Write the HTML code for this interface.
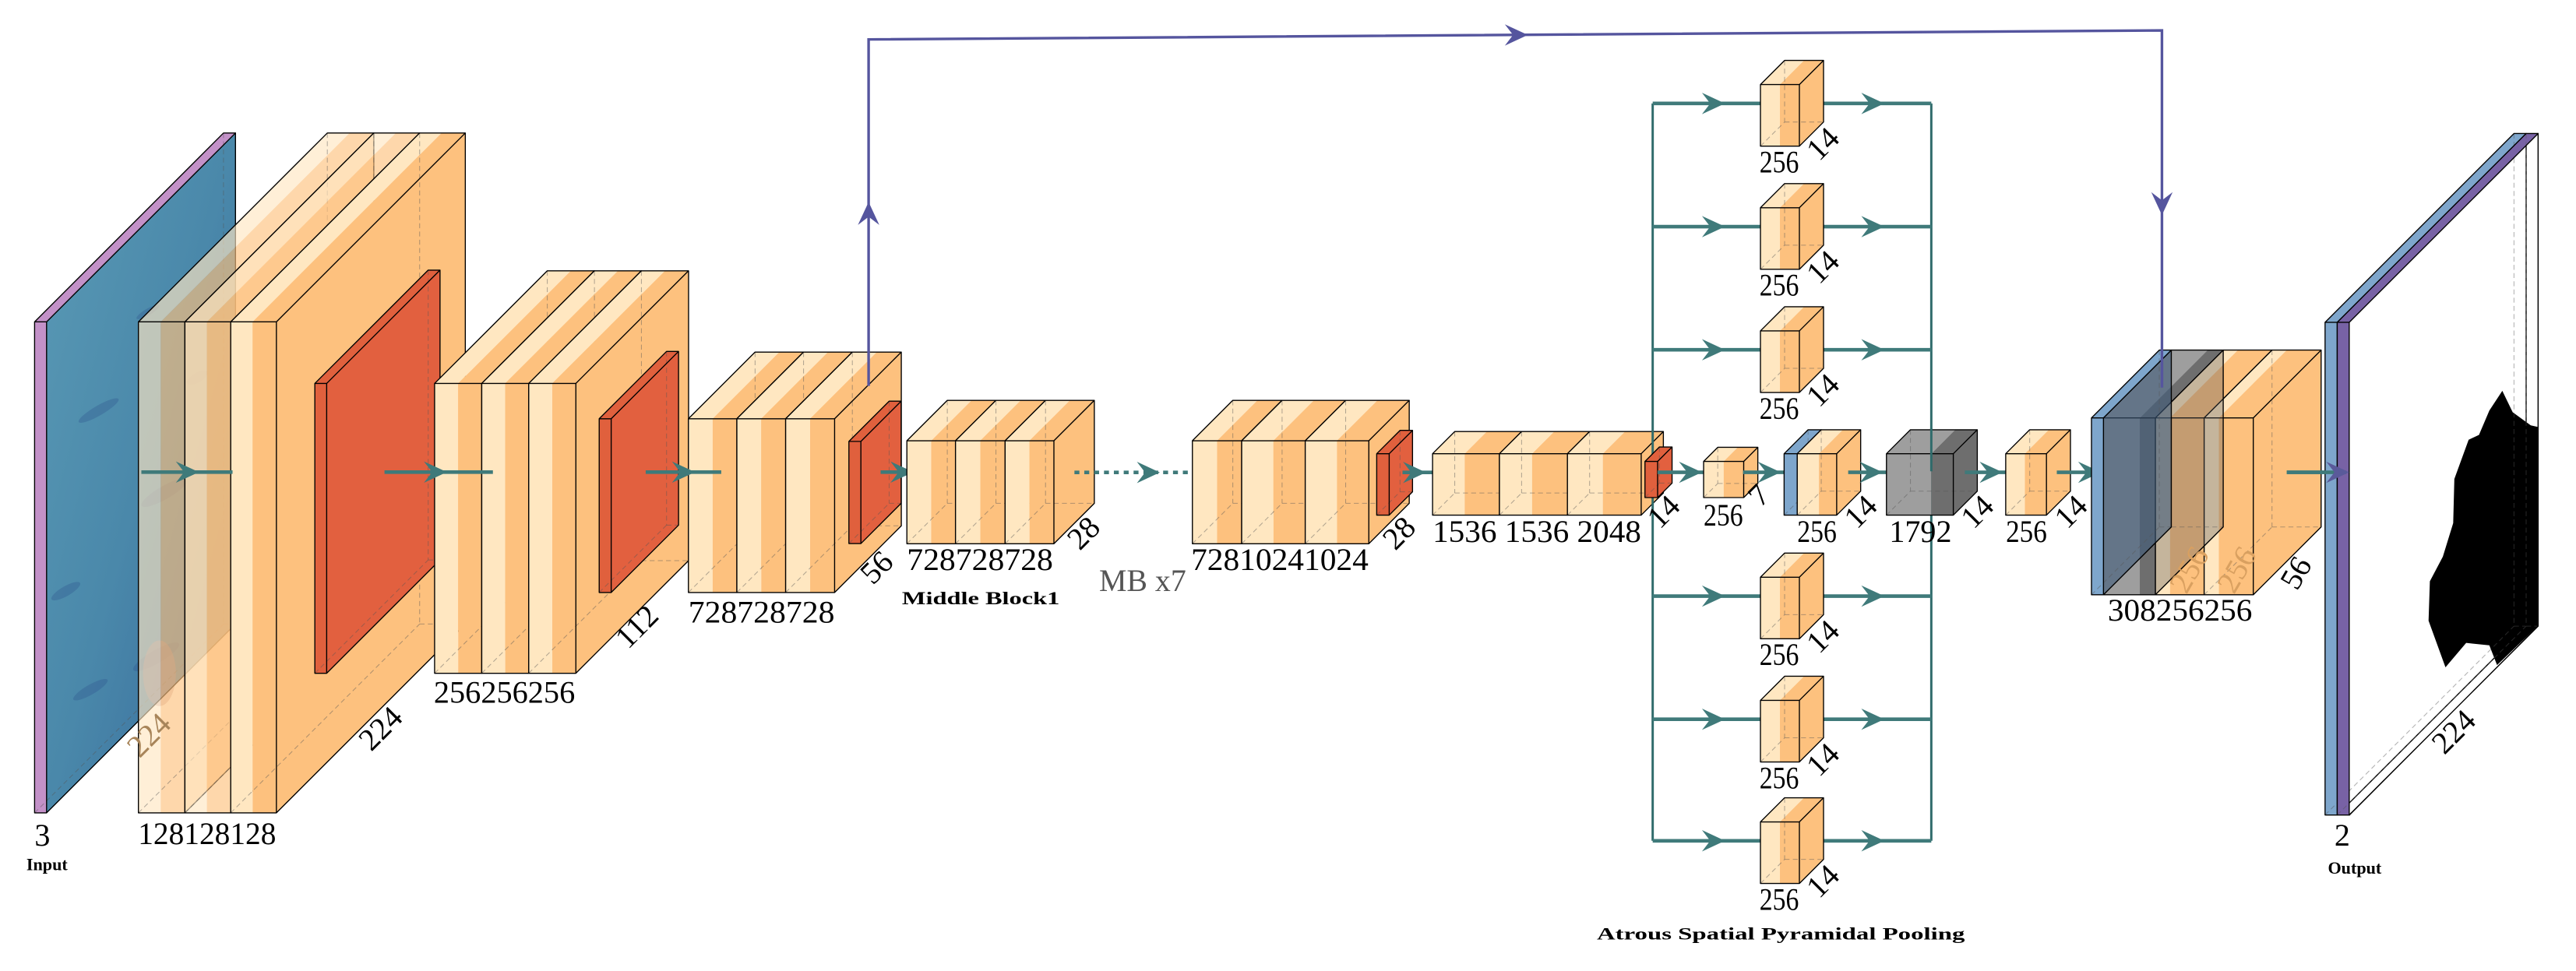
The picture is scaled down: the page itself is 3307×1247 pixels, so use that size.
<!DOCTYPE html>
<html><head><meta charset="utf-8">
<style>
html,body{margin:0;padding:0;background:#fff;}
svg{display:block;}
.n{font-family:"Liberation Serif",serif;font-size:19px;fill:#000;}
.b{font-family:"Liberation Serif",serif;font-weight:bold;fill:#000;}
</style></head><body>
<svg id="s" xmlns="http://www.w3.org/2000/svg" width="3307" height="1247" viewBox="0 0 1568 591.3">
<defs>
<linearGradient id="img" x1="0" y1="0" x2="1" y2="1">
<stop offset="0" stop-color="#5a9ab5"/><stop offset="0.5" stop-color="#4a88aa"/><stop offset="1" stop-color="#35679a"/>
</linearGradient>
</defs>
<g id="shapes"></g>
<g id="labels">
<text class="n" x="21" y="515">3</text>
<text class="b" x="16" y="530" font-size="10.5">Input</text>
<text class="n" x="84" y="514" textLength="84" lengthAdjust="spacingAndGlyphs">128128128</text>
<text class="n" transform="translate(95,452) rotate(-45)" text-anchor="middle" style="fill:#a8855a">224</text>
<text class="n" transform="translate(236,448) rotate(-45)" text-anchor="middle">224</text>
<text class="n" x="264" y="428" textLength="86" lengthAdjust="spacingAndGlyphs">256256256</text>
<text class="n" transform="translate(392,386) rotate(-45)" text-anchor="middle">112</text>
<text class="n" x="419" y="379" textLength="89" lengthAdjust="spacingAndGlyphs">728728728</text>
<text class="n" transform="translate(538,350) rotate(-45)" text-anchor="middle">56</text>
<text class="n" x="552" y="347" textLength="89" lengthAdjust="spacingAndGlyphs">728728728</text>
<text class="b" x="549" y="368" font-size="11" textLength="96" lengthAdjust="spacingAndGlyphs">Middle Block1</text>
<text class="n" transform="translate(664,329) rotate(-45)" text-anchor="middle">28</text>
<text class="n" x="669" y="360" style="fill:#555" textLength="53" lengthAdjust="spacingAndGlyphs">MB x7</text>
<text class="n" x="725" y="347" textLength="108" lengthAdjust="spacingAndGlyphs">72810241024</text>
<text class="n" transform="translate(856,329) rotate(-45)" text-anchor="middle">28</text>
<text class="n" x="872" y="330" textLength="127" lengthAdjust="spacingAndGlyphs">1536 1536 2048</text>
<text class="n" transform="translate(1017,316) rotate(-45)" text-anchor="middle">14</text>
<text class="n" x="1037" y="320" textLength="24" lengthAdjust="spacingAndGlyphs">256</text>
<text class="n" transform="translate(1075,306) rotate(-45)" text-anchor="middle">7</text>
<text class="n" x="1094" y="330" textLength="24" lengthAdjust="spacingAndGlyphs">256</text>
<text class="n" transform="translate(1137,316) rotate(-45)" text-anchor="middle">14</text>
<text class="n" x="1150" y="330" textLength="38" lengthAdjust="spacingAndGlyphs">1792</text>
<text class="n" transform="translate(1208,316) rotate(-45)" text-anchor="middle">14</text>
<text class="n" x="1221" y="330" textLength="25" lengthAdjust="spacingAndGlyphs">256</text>
<text class="n" transform="translate(1265,316) rotate(-45)" text-anchor="middle">14</text>
<text class="n" x="1283" y="378" textLength="88" lengthAdjust="spacingAndGlyphs">308256256</text>
<text class="n" transform="translate(1338,350) rotate(-60)" text-anchor="middle" style="fill:#d9a060">256</text>
<text class="n" transform="translate(1367,350) rotate(-60)" text-anchor="middle" style="fill:#d9a060">256</text>
<text class="n" transform="translate(1403,352) rotate(-60)" text-anchor="middle">56</text>
<text class="n" x="1421" y="515">2</text>
<text class="b" x="1417" y="532" font-size="10.5">Output</text>
<text class="n" transform="translate(1498,450) rotate(-45)" text-anchor="middle">224</text>
<text class="b" x="972" y="572" font-size="10.5" textLength="224" lengthAdjust="spacingAndGlyphs">Atrous Spatial Pyramidal Pooling</text>
<text class="n" x="1071" y="105" textLength="24" lengthAdjust="spacingAndGlyphs">256</text>
<text class="n" transform="translate(1114,92) rotate(-45)" text-anchor="middle">14</text>
<text class="n" x="1071" y="180" textLength="24" lengthAdjust="spacingAndGlyphs">256</text>
<text class="n" transform="translate(1114,167) rotate(-45)" text-anchor="middle">14</text>
<text class="n" x="1071" y="255" textLength="24" lengthAdjust="spacingAndGlyphs">256</text>
<text class="n" transform="translate(1114,242) rotate(-45)" text-anchor="middle">14</text>
<text class="n" x="1071" y="405" textLength="24" lengthAdjust="spacingAndGlyphs">256</text>
<text class="n" transform="translate(1114,392) rotate(-45)" text-anchor="middle">14</text>
<text class="n" x="1071" y="480" textLength="24" lengthAdjust="spacingAndGlyphs">256</text>
<text class="n" transform="translate(1114,467) rotate(-45)" text-anchor="middle">14</text>
<text class="n" x="1071" y="554" textLength="24" lengthAdjust="spacingAndGlyphs">256</text>
<text class="n" transform="translate(1114,541) rotate(-45)" text-anchor="middle">14</text>
</g>
</svg>
<script>
(function(){
var G=document.getElementById('shapes');var NS='http://www.w3.org/2000/svg';
function el(t,a){var e=document.createElementNS(NS,t);for(var k in a)e.setAttribute(k,a[k]);G.appendChild(e);return e;}
function P(pts){return pts.map(function(p){return p[0].toFixed(2)+','+p[1].toFixed(2)}).join(' ');}
function poly(pts,fill,o){var a={points:P(pts),fill:fill,stroke:'none'};if(o)for(var k in o)a[k]=o[k];return el('polygon',a);}
function line(x1,y1,x2,y2,st,w,extra){var a={x1:x1,y1:y1,x2:x2,y2:y2,stroke:st,'stroke-width':w};if(extra)for(var k in extra)a[k]=extra[k];return el('line',a);}
var L='#FFE7C1',O='#FDC17E',R='#E0603D';
function box(x,y,w,h,d,segs,side,opt){opt=opt||{};var op=opt.op||1;var dy=opt.dy||d;
 poly([[x+w,y],[x+w+d,y-dy],[x+w+d,y+h-dy],[x+w,y+h]],side,{'fill-opacity':opt.sop||op});
 var f0=0;segs.forEach(function(s){var f1=s[0];
  poly([[x+f0*w,y],[x+f0*w+d,y-dy],[x+f1*w+d,y-dy],[x+f1*w,y]],s[2]||s[1],{'fill-opacity':op});
  poly([[x+f0*w,y],[x+f1*w,y],[x+f1*w,y+h],[x+f0*w,y+h]],s[1],{'fill-opacity':op});f0=f1;});
 var ds={'stroke-dasharray':'3,2',opacity:0.45};
 line(x+d,y-dy,x+d,y+h-dy,'#555',0.5,ds);line(x+d,y+h-dy,x+w+d,y+h-dy,'#555',0.5,ds);line(x,y+h,x+d,y+h-dy,'#555',0.5,ds);
 var sk={fill:'none',stroke:'#000','stroke-width':0.65,'stroke-linejoin':'round'};
 el('polygon',Object.assign({points:P([[x,y],[x+w,y],[x+w,y+h],[x,y+h]])},sk));
 el('polyline',Object.assign({points:P([[x,y],[x+d,y-dy],[x+w+d,y-dy],[x+w+d,y+h-dy],[x+w,y+h]])},sk));
 line(x+w,y,x+w+d,y-dy,'#000',0.65);
}
function conv(xs,ws,y,h,d,f,op){for(var i=0;i<xs.length;i++)box(xs[i],y,ws[i],h,d,[[f,L],[1,O]],O,{op:op?op[i]:1});}
function red(x,y,w,h,d){box(x,y,w,h,d,[[1,R]],'#E2603F');}
function head(tx,ty,dir,c,s){s=s||1;var l=14*s,hw=6.5*s,b=9*s;var pts;
 if(dir=='r')pts=[[tx,ty],[tx-l,ty-hw],[tx-b,ty],[tx-l,ty+hw]];
 if(dir=='u')pts=[[tx,ty],[tx-hw,ty+l],[tx,ty+b],[tx+hw,ty+l]];
 if(dir=='d')pts=[[tx,ty],[tx-hw,ty-l],[tx,ty-b],[tx+hw,ty-l]];
 poly(pts,c);}
var T='#3f7a7a';
function arr(x1,x2,tip,y,dash){line(x1,y,x2,y,T,2.2,dash?{'stroke-dasharray':'3,3'}:{});head(tip,y,'r',T);}

poly([[28.3,196],[143.3,81],[143.3,380],[28.3,495]],'url(#img)');
[[60,250,14,3],[90,190,8,2],[100,300,16,4],[55,420,12,3],[120,230,7,3],[40,360,10,3],[95,400,16,4]].forEach(function(b){el('ellipse',{cx:b[0],cy:b[1],rx:b[2],ry:b[3],fill:'#2a4f8a',opacity:0.3,transform:'rotate(-30 '+b[0]+' '+b[1]+')'});});
el('ellipse',{cx:97,cy:410,rx:10,ry:20,fill:'#b07a80',opacity:0.4});
el('polygon',{points:P([[28.3,196],[143.3,81],[143.3,380],[28.3,495]]),fill:'none',stroke:'#333','stroke-width':0.4});
box(21,196,7.3,299,115,[[1,'#C391C8']],'none');
conv([84.2,112.5,140.4],[28.3,27.9,27.8],196,299,115,0.48,[0.65,0.65,1]);
red(191.6,233.5,7.2,176.5,69);
arr(86,141.5,121,287.5);
conv([264.5,293.2,321.8],[28.7,28.6,28.7],233.5,176.5,68.6,0.5);
red(364.7,255,7.3,105.8,41);
arr(234,300,272,287.5);
conv([419,448.5,478.2],[29.5,29.7,29.8],255,105.8,40.6,0.5);
red(516.7,268.8,7.3,62.2,24.5);
arr(393,439,423,287.5);
arr(536,564,556,287.5);
conv([552,581.6,611.8],[29.6,30.2,29.7],268.4,62.7,24.6,0.5);
arr(654,736,706,287.7,true);
conv([725.8,755.8,794.5],[30,38.7,38.7],268.4,62.7,24.6,0.5);
red(838,276.3,7.6,37.4,14.2);
arr(853.7,878,868,287.7);
conv([872,912.7,954.1],[40.7,41.4,44.9],276.3,37.4,13.5,0.48);
line(1006,63,1006,512,'#2f6b6b',1.4);line(1175.6,63,1175.6,512,'#2f6b6b',1.4);
[63,138,213,363,438,512].forEach(function(r){
 line(1006,r,1078,r,T,2.2);head(1050,r,'r',T);
 line(1103,r,1175.6,r,T,2.2);head(1147,r,'r',T);
 box(1071.6,r-11.5,23.7,37.5,14.7,[[0.5,L],[1,O]],O);
});
red(1001.3,281,7.7,22,8.8);
arr(1009,1037,1036,287.6);
box(1037,281,24.4,22,8.6,[[0.5,L],[1,O]],O);
arr(1061,1086,1084,287.6);
box(1086,276.3,8,37.4,14.6,[[1,'#7EA6CC']],'#7EA6CC',{sop:0.45});
box(1094,276.3,24,37.4,14.6,[[0.55,L],[1,O]],O);
arr(1125,1154.5,1146,287.6);
box(1148.3,276.3,40.7,37.4,14.6,[[0.67,'#9E9E9E'],[1,'#6E6E6E']],'#6E6E6E');
line(1175.6,261,1175.6,287,'#2f6b6b',1.4);
arr(1196,1228,1219,287.6);
box(1220.9,276.3,24.8,37.4,14.6,[[0.47,L],[1,O]],O);
arr(1252,1293,1279,287.6);
box(1312,254.5,29.7,107.7,41.3,[[0.3,L],[1,O]],O);
box(1341.7,254.5,29.9,107.7,41.3,[[0.3,L],[1,O]],O);
box(1280.4,254.5,31.6,107.7,41.3,[[0.7,'#9E9E9E'],[1,'#6E6E6E']],'#5a5a5a',{sop:0.35});
box(1273.1,254.5,7.3,107.7,41.3,[[1,'#7EA6CC']],'#3d5a7a',{sop:0.6});
arr(1392,1430,1430,287.6);
poly([[1430,196.3],[1545,81],[1545,381],[1430,496.7]],'#fff');
poly([[1523.2,238],[1529.5,251],[1540.5,259],[1545,260],[1545,381],[1520,405],[1515.3,393],[1501.2,391.5],[1488.6,406.4],[1478.3,378],[1479.1,354],[1487,339],[1493.3,318.5],[1494,291.7],[1502.7,267.8],[1509,264.8],[1515.3,250]],'#000');
line(1545,81,1545,381,'#333',0.6);line(1430,496.7,1545,381,'#333',0.4);
box(1415.3,196.3,7.4,300,115,[[1,'#7EA6CC']],'none');
box(1422.7,196.3,7.3,300,115,[[1,'#7862A5']],'none');
line(1392,287.6,1428,287.6,T,2.2);head(1430,287.6,'r','#5a5a9a');
var B='#55559e';
el('polyline',{points:'528.7,235 528.7,24 1316,18.5 1316,236',fill:'none',stroke:B,'stroke-width':1.6});
head(528.7,123,'u',B);head(930,21.3,'r',B);head(1316,131,'d',B);
})();
</script>
</body></html>
